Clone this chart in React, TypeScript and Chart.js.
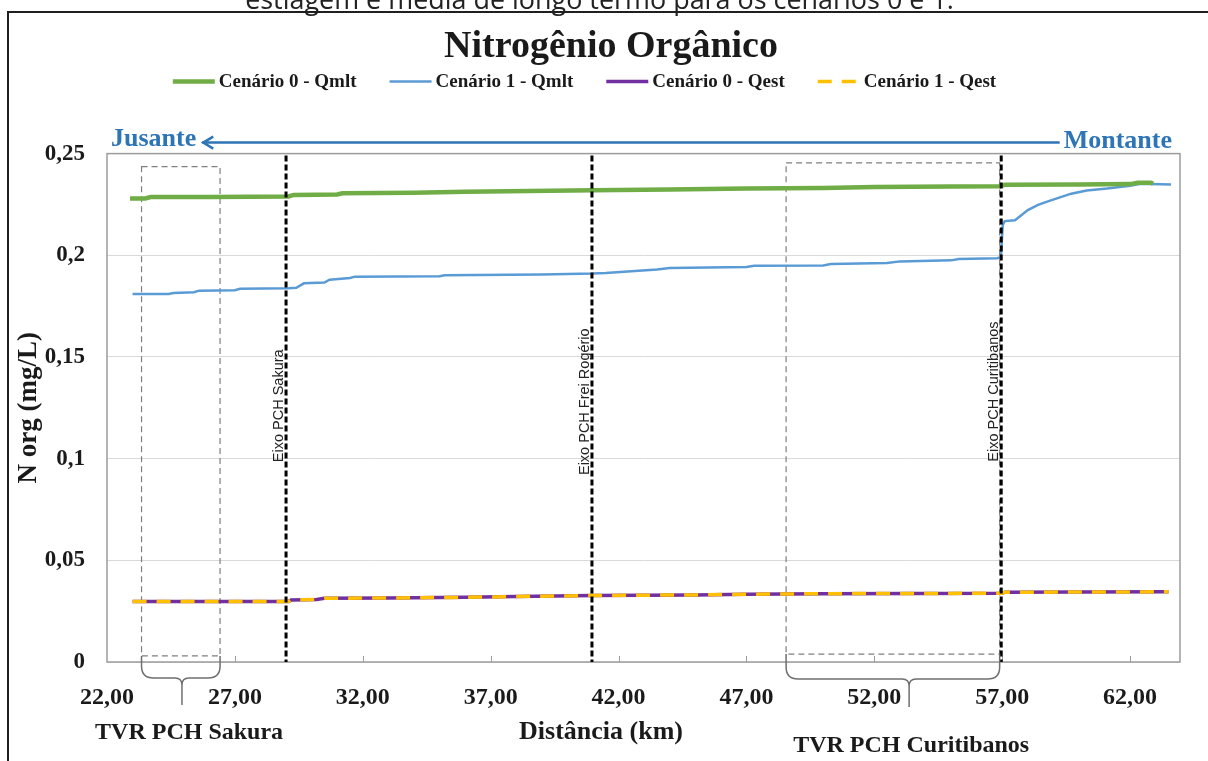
import React, { useEffect, useRef } from 'react';
import { Chart, registerables } from 'chart.js';

Chart.register(...registerables);

const SERIF = '"Liberation Serif", "Times New Roman", serif';
const SANS = '"Liberation Sans", Arial, sans-serif';

// ---- Data (distance in km, N org in mg/L) ----
const seriesLabels = ['Cenário 0 - Qmlt', 'Cenário 1 - Qmlt', 'Cenário 0 - Qest', 'Cenário 1 - Qest'];

const c0QmltKm = [22.9, 23.5, 23.7, 26.0, 29.1, 29.3, 31.0, 31.2, 34.0, 36.0, 38.5, 41.0, 44.0, 47.0, 50.0, 52.0, 55.0, 56.9, 57.1, 60.0, 62.0, 62.3, 62.8, 62.9];
const c0Qmlt = [0.2279, 0.2279, 0.2286, 0.2287, 0.2289, 0.2297, 0.2299, 0.2305, 0.2307, 0.2312, 0.2316, 0.232, 0.2324, 0.2328, 0.2331, 0.2336, 0.2338, 0.234, 0.2347, 0.2348, 0.235, 0.2357, 0.2357, 0.2352];

const c1QmltKm = [23.0, 24.4, 24.6, 25.4, 25.6, 27.0, 27.2, 29.1, 29.4, 29.7, 30.5, 30.7, 31.5, 31.7, 35.0, 35.2, 39.0, 41.0, 41.5, 42.5, 43.5, 44.0, 47.0, 47.3, 50.0, 50.3, 52.5, 53.0, 55.0, 55.3, 56.8, 56.95, 57.02, 57.1, 57.5, 58.0, 58.4, 58.9, 59.7, 60.3, 61.1, 62.0, 62.4, 63.6];
const c1Qmlt = [0.181, 0.181, 0.1815, 0.1818, 0.1826, 0.1828, 0.1835, 0.1838, 0.184, 0.1862, 0.1866, 0.188, 0.1888, 0.1895, 0.1897, 0.1902, 0.1905, 0.191, 0.1913, 0.1922, 0.193, 0.1938, 0.1942, 0.1948, 0.195, 0.1957, 0.1962, 0.197, 0.1975, 0.1982, 0.1985, 0.199, 0.215, 0.2168, 0.2172, 0.2222, 0.2248, 0.227, 0.2303, 0.2318, 0.2328, 0.2342, 0.2352, 0.2348];

const qestKm = [23.0, 29.1, 29.2, 30.2, 30.5, 33.0, 36.0, 38.0, 41.0, 45.0, 47.0, 50.0, 57.0, 57.1, 60.0, 63.5];
const c0Qest = [0.0297, 0.0298, 0.0305, 0.0307, 0.0313, 0.0315, 0.0318, 0.0322, 0.0327, 0.033, 0.0333, 0.0336, 0.0338, 0.0343, 0.0344, 0.0345];
const c1Qest = [0.0297, 0.0298, 0.0305, 0.0307, 0.0313, 0.0315, 0.0318, 0.0322, 0.0327, 0.033, 0.0333, 0.0336, 0.0338, 0.0343, 0.0344, 0.0345];

const xTicks = [22, 27, 32, 37, 42, 47, 52, 57, 62];
const xTickLabels = ['22,00', '27,00', '32,00', '37,00', '42,00', '47,00', '52,00', '57,00', '62,00'];
const yTicks = [0, 0.05, 0.1, 0.15, 0.2, 0.25];
const yTickLabels = ['0', '0,05', '0,1', '0,15', '0,2', '0,25'];

// Annotations
const eixoKm = [29.0, 40.96, 56.96];
const eixoLabels = ['Eixo PCH Sakura', 'Eixo PCH Frei Rogério', 'Eixo PCH Curitibanos'];
const eixoLabelAt = [0.126, 0.128, 0.133];

const tvrLabels = ['TVR PCH Sakura', 'TVR PCH Curitibanos'];
const tvrKmStart = [23.35, 48.55];
const tvrKmEnd = [26.42, 56.9];
const tvrKmCusp = [24.93, 53.36];
const tvrKmLabel = [25.21, 53.44];
const tvrTop = [0.2436, 0.2454];
const tvrBottom = [0.003, 0.0039];

const pts = (xs: number[], ys: number[]) => xs.map((x, i) => ({ x, y: ys[i] }));

function drawBrace(ctx: CanvasRenderingContext2D, xL: number, xR: number, xC: number, yTop: number, yH: number, yTip: number) {
  const r = 12, r2 = 7;
  ctx.beginPath();
  ctx.moveTo(xL, yTop);
  ctx.lineTo(xL, yH - r);
  ctx.quadraticCurveTo(xL, yH, xL + r, yH);
  ctx.lineTo(xC - r2, yH);
  ctx.quadraticCurveTo(xC, yH, xC, yH + r2);
  ctx.lineTo(xC, yTip);
  ctx.moveTo(xR, yTop);
  ctx.lineTo(xR, yH - r);
  ctx.quadraticCurveTo(xR, yH, xR - r, yH);
  ctx.lineTo(xC + r2, yH);
  ctx.quadraticCurveTo(xC, yH, xC, yH + r2);
  ctx.stroke();
}

const overlay = {
  id: 'overlay',
  beforeDatasetsDraw(chart: any) {
    const { ctx, chartArea: a, scales } = chart;
    const x = scales.x, y = scales.y;
    ctx.save();
    ctx.strokeStyle = '#9C9C9C';
    ctx.lineWidth = 1.5;
    ctx.strokeRect(a.left, a.top, a.right - a.left, a.bottom - a.top);
    ctx.lineWidth = 1;
    xTicks.forEach((v) => {
      const px = Math.round(x.getPixelForValue(v)) + 0.5;
      if (px <= a.left + 2) return;
      ctx.beginPath();
      ctx.moveTo(px, a.bottom);
      ctx.lineTo(px, a.bottom - 6);
      ctx.stroke();
    });
    ctx.strokeStyle = '#7F7F7F';
    ctx.lineWidth = 1.2;
    ctx.setLineDash([6, 4]);
    tvrLabels.forEach((_, i) => {
      const x1 = x.getPixelForValue(tvrKmStart[i]);
      const x2 = x.getPixelForValue(tvrKmEnd[i]);
      const y1 = y.getPixelForValue(tvrTop[i]);
      const y2 = y.getPixelForValue(tvrBottom[i]);
      ctx.strokeRect(x1, y1, x2 - x1, y2 - y1);
    });
    ctx.restore();
  },
  afterDatasetsDraw(chart: any) {
    const { ctx, chartArea: a, scales } = chart;
    const x = scales.x, y = scales.y;
    ctx.save();
    ctx.strokeStyle = '#000';
    ctx.lineWidth = 3;
    ctx.setLineDash([6, 3]);
    eixoKm.forEach((k) => {
      const px = x.getPixelForValue(k);
      ctx.beginPath();
      ctx.moveTo(px, a.top + 2);
      ctx.lineTo(px, a.bottom);
      ctx.stroke();
    });
    ctx.setLineDash([]);
    ctx.fillStyle = '#222';
    ctx.font = `14.5px ${SANS}`;
    ctx.textAlign = 'center';
    ctx.textBaseline = 'alphabetic';
    eixoKm.forEach((k, i) => {
      const px = x.getPixelForValue(k);
      const py = y.getPixelForValue(eixoLabelAt[i]);
      ctx.save();
      ctx.translate(px - 3, py);
      ctx.rotate(-Math.PI / 2);
      ctx.fillText(eixoLabels[i], 0, 0);
      ctx.restore();
    });
    ctx.restore();
  },
  afterDraw(chart: any) {
    const { ctx, chartArea: a, scales } = chart;
    const x = scales.x;
    ctx.save();
    ctx.fillStyle = '#1f1f1f';
    ctx.fillRect(7, 11, 2, 761 - 11);
    ctx.fillRect(7, 11, 1208 - 7, 2);
    const cap = 'estiagem e média de longo termo para os cenários 0 e 1.';
    ctx.font = `24px "Open Sans", ${SANS}`;
    const w = ctx.measureText(cap).width;
    const fs = (24 * 709) / w;
    ctx.font = `${fs}px "Open Sans", ${SANS}`;
    ctx.fillStyle = '#222';
    ctx.textAlign = 'center';
    ctx.textBaseline = 'alphabetic';
    ctx.fillText(cap, 599.5, 8.5);

    const ds = chart.data.datasets;
    ctx.font = `bold 19px ${SERIF}`;
    const sample = 42, gapText = 4, gapItem = 33;
    const widths = ds.map((d: any) => sample + gapText + ctx.measureText(d.label).width);
    const total = widths.reduce((s: number, v: number) => s + v, 0) + gapItem * (ds.length - 1);
    let lx = 584.5 - total / 2;
    const ly = 81.5;
    ds.forEach((d: any, i: number) => {
      ctx.save();
      ctx.strokeStyle = d.borderColor;
      ctx.lineWidth = d.borderWidth;
      ctx.setLineDash(d.borderDash || []);
      ctx.beginPath();
      ctx.moveTo(lx, ly);
      ctx.lineTo(lx + sample, ly);
      ctx.stroke();
      ctx.restore();
      ctx.fillStyle = '#1a1a1a';
      ctx.textAlign = 'left';
      ctx.textBaseline = 'middle';
      ctx.fillText(d.label, lx + sample + gapText, ly + 1);
      lx += widths[i] + gapItem;
    });

    const blue = '#2E75B6';
    ctx.fillStyle = blue;
    ctx.strokeStyle = blue;
    ctx.font = `bold 26px ${SERIF}`;
    ctx.textBaseline = 'alphabetic';
    ctx.textAlign = 'left';
    ctx.fillText('Jusante', a.left + 4, a.top - 8);
    const jw = ctx.measureText('Jusante').width;
    ctx.textAlign = 'right';
    ctx.fillText('Montante', a.right - 8, a.top - 6);
    const mw = ctx.measureText('Montante').width;
    const ay = a.top - 11;
    const ax1 = a.left + 4 + jw + 6;
    const ax2 = a.right - 8 - mw - 4;
    ctx.lineWidth = 2.5;
    ctx.beginPath();
    ctx.moveTo(ax1, ay);
    ctx.lineTo(ax2, ay);
    ctx.stroke();
    ctx.beginPath();
    ctx.moveTo(ax1 + 11, ay - 6);
    ctx.lineTo(ax1 + 1, ay);
    ctx.lineTo(ax1 + 11, ay + 6);
    ctx.stroke();

    ctx.strokeStyle = '#6F6F6F';
    ctx.lineWidth = 1.5;
    const braceY = [16, 17];
    const tipY = [43, 45];
    const labelDrop = [77, 90];
    tvrLabels.forEach((lab, i) => {
      const x1 = x.getPixelForValue(tvrKmStart[i]);
      const x2 = x.getPixelForValue(tvrKmEnd[i]);
      const xc = x.getPixelForValue(tvrKmCusp[i]);
      const yTop = scales.y.getPixelForValue(tvrBottom[i]);
      drawBrace(ctx, x1, x2, xc, yTop, a.bottom + braceY[i], a.bottom + tipY[i]);
      ctx.fillStyle = '#1a1a1a';
      ctx.font = `bold 24px ${SERIF}`;
      ctx.textAlign = 'center';
      ctx.textBaseline = 'alphabetic';
      ctx.fillText(lab, x.getPixelForValue(tvrKmLabel[i]), a.bottom + labelDrop[i]);
    });

    ctx.font = `bold 26px ${SERIF}`;
    ctx.fillStyle = '#1a1a1a';
    ctx.textAlign = 'center';
    ctx.fillText('Distância (km)', 601, a.bottom + 77);
    ctx.restore();
  },
};

export default function App() {
  const ref = useRef<HTMLCanvasElement>(null);
  useEffect(() => {
    const chart = new Chart(ref.current as HTMLCanvasElement, {
      type: 'line',
      data: {
        datasets: [
          { label: seriesLabels[0], data: pts(c0QmltKm, c0Qmlt), borderColor: '#70AD47', backgroundColor: '#70AD47', borderWidth: 4.5, pointRadius: 0, order: 0 },
          { label: seriesLabels[1], data: pts(c1QmltKm, c1Qmlt), borderColor: '#5B9BD5', backgroundColor: '#5B9BD5', borderWidth: 2.5, pointRadius: 0, order: 1 },
          { label: seriesLabels[2], data: pts(qestKm, c0Qest), borderColor: '#7030A0', backgroundColor: '#7030A0', borderWidth: 3.5, pointRadius: 0, order: 2 },
          { label: seriesLabels[3], data: pts(qestKm, c1Qest), borderColor: '#FFC000', backgroundColor: '#FFC000', borderWidth: 3.5, borderDash: [14, 10], pointRadius: 0, order: 0 },
        ] as any,
      },
      options: {
        responsive: false,
        animation: false,
        layout: { padding: { left: 14, right: 0, top: 0, bottom: 0 } },
        plugins: {
          legend: { display: false },
          tooltip: { enabled: false },
          title: {
            display: true,
            text: 'Nitrogênio Orgânico',
            color: '#1a1a1a',
            font: { family: SERIF, size: 38, weight: 'bold' },
            padding: { top: 24, bottom: 84 },
          },
        },
        scales: {
          x: {
            type: 'linear',
            min: 22,
            max: 63.95,
            afterBuildTicks: (s: any) => { s.ticks = xTicks.map((v) => ({ value: v })); },
            afterFit: (s: any) => { s.height = 99; },
            grid: { display: false },
            border: { display: false },
            ticks: {
              padding: 13,
              color: '#1a1a1a',
              font: { family: SERIF, size: 24, weight: 'bold' },
              callback: (_v: any, i: number) => xTickLabels[i],
            },
          },
          y: {
            type: 'linear',
            min: 0,
            max: 0.25,
            afterBuildTicks: (s: any) => { s.ticks = yTicks.map((v) => ({ value: v })); },
            afterFit: (s: any) => { s.width = 93; },
            grid: { color: '#D9D9D9', lineWidth: 1, drawTicks: false },
            border: { display: false },
            ticks: {
              padding: 22,
              color: '#1a1a1a',
              font: { family: SERIF, size: 23, weight: 'bold' },
              callback: (_v: any, i: number) => yTickLabels[i],
            },
            title: {
              display: true,
              text: 'N org (mg/L)',
              color: '#1a1a1a',
              font: { family: SERIF, size: 27, weight: 'bold' },
              padding: { top: -1, bottom: 0 },
            },
          },
          yR: {
            type: 'linear',
            position: 'right',
            min: 0,
            max: 1,
            grid: { display: false, drawTicks: false },
            border: { display: false },
            ticks: { display: false },
            afterFit: (s: any) => { s.width = 28; },
          },
        },
      } as any,
      plugins: [overlay],
    });
    return () => chart.destroy();
  }, []);
  return (
    <div style={{ position: 'fixed', left: 0, top: 0, width: 1208, height: 761, background: '#fff' }}>
      <canvas ref={ref} width={1208} height={761} style={{ width: 1208, height: 761, display: 'block' }} />
    </div>
  );
}
